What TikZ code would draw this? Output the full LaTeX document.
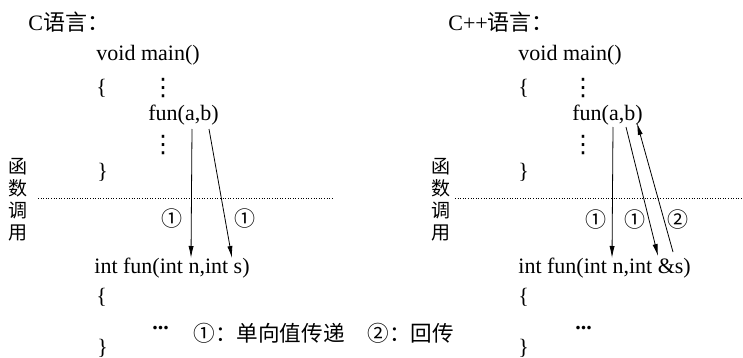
\documentclass[tikz,border=0pt]{standalone}
\usepackage{fontspec}
\setmainfont{Liberation Serif}
\newfontfamily\cjk{Noto Sans CJK SC}
\newfontfamily\sym{DejaVu Sans}
\usetikzlibrary{arrows.meta}

\begin{document}
\begin{tikzpicture}[x=0.5pt,y=-0.5pt,>={Latex[length=6pt,width=2.6pt]}]
  \tikzstyle{code}=[anchor=west,inner sep=0pt,font=\fontsize{11}{13}\selectfont]
  \tikzstyle{dots}=[inner sep=0pt,font=\sym\fontsize{12}{14}\selectfont]
  \tikzstyle{vert}=[inner sep=0pt,align=center,font=\cjk\fontsize{9.5}{11}\selectfont]
  \tikzstyle{num}=[inner sep=0pt,font=\cjk\fontsize{10.5}{12}\selectfont]
  \useasboundingbox (0,0) rectangle (743,358);
  % C
  \node[code] (ctitle) at (28,22) {C{\cjk 语言：}};
  \node[code] (cmain) at (96,55) {void main()};
  \node[code] (copen) at (96,88) {\{};
  \node[dots] (cdots1) at (163,88) {⋮};
  \node[code] (ccall) at (148,115) {fun(a,b)};
  \node[dots] (cdots2) at (163,145) {⋮};
  \node[code] (cclose) at (97,172) {\}};
  \node[vert] (clabel) at (18,200) {函\\数\\调\\用};
  \draw[densely dotted,line width=0.3pt] (38,198) -- (333,198);
  \node[code] (cfun) at (94,268) {int fun(int n,int s)};
  \node[code] (cfopen) at (96,297) {\{};
  \node[code] (cfdots) at (152,328) {\textbf{...}};
  \node[code] (cfclose) at (97,348) {\}};
  \coordinate (ca) at (192,129);
  \coordinate (cb) at (209,129);
  \coordinate (cn) at (191,258);
  \coordinate (cs) at (232,258);
  \draw[->] (ca) -- (cn);
  \draw[->] (cb) -- (cs);
  \node[num] (cnum1) at (172,219) {①};
  \node[num] (cnum2) at (245,219) {①};
  % legend
  \node[code,font=\cjk\fontsize{10.8}{13}\selectfont] (leg1) at (193,333) {①：单向值传递};
  \node[code,font=\cjk\fontsize{10.8}{13}\selectfont] (leg2) at (367,333) {②：回传};
  % C++
  \node[code] (ptitle) at (448,22) {C++{\cjk 语言：}};
  \node[code] (pmain) at (518,55) {void main()};
  \node[code] (popen) at (518,88) {\{};
  \node[dots] (pdots1) at (583,88) {⋮};
  \node[code] (pcall) at (572,115) {fun(a,b)};
  \node[dots] (pdots2) at (583,145) {⋮};
  \node[code] (pclose) at (518,172) {\}};
  \node[vert] (plabel) at (441,200) {函\\数\\调\\用};
  \draw[densely dotted,line width=0.3pt] (455,198) -- (743,198);
  \node[code] (pfun) at (518,268) {int fun(int n,int \&s)};
  \node[code] (pfopen) at (518,297) {\{};
  \node[code] (pfdots) at (575,328) {\textbf{...}};
  \node[code] (pfclose) at (518,348) {\}};
  \coordinate (pa) at (613,127);
  \coordinate (pb) at (626,127);
  \coordinate (pbt) at (637,123);
  \coordinate (pn) at (612,258);
  \coordinate (ps) at (658,256);
  \coordinate (pback) at (673,252);
  \draw[->] (pa) -- (pn);
  \draw[->] (pb) -- (ps);
  \draw[->] (pback) -- (pbt);
  \node[num] (pnum1) at (596,220) {①};
  \node[num] (pnum2) at (635,220) {①};
  \node[num] (pnum3) at (678,220) {②};
\end{tikzpicture}
\end{document}
